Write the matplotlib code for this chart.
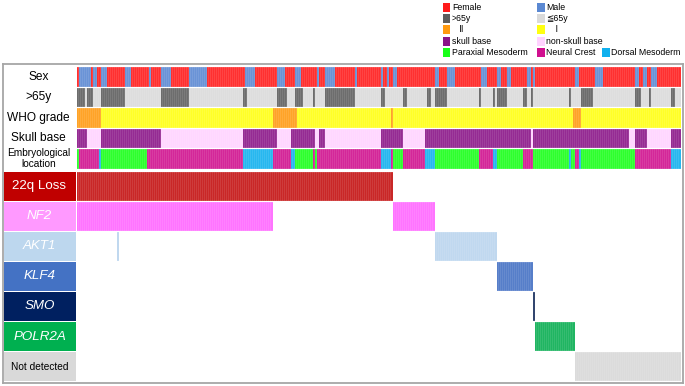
import numpy as np
import matplotlib
matplotlib.use("Agg")
import matplotlib.pyplot as plt
from matplotlib.patches import Rectangle

plt.rcParams['font.family'] = ['Liberation Sans', 'DejaVu Sans']

# clinical tracks, read left to right as runs of (category, number of samples)
sex_runs = [("F", 1), ("M", 6), ("F", 1), ("M", 2), ("F", 2), ("M", 3), ("F", 9), ("M", 3),
            ("F", 9), ("M", 1), ("F", 5), ("M", 5), ("F", 9), ("M", 9), ("F", 19), ("M", 5),
            ("F", 11), ("M", 4), ("F", 5), ("M", 3), ("F", 8), ("M", 1), ("F", 3), ("M", 5),
            ("F", 10), ("M", 1), ("F", 12), ("M", 1), ("F", 2), ("M", 1), ("F", 2), ("M", 2),
            ("F", 19), ("M", 2), ("F", 4), ("M", 4), ("F", 13), ("M", 3), ("F", 5), ("M", 2),
            ("F", 3), ("M", 2), ("F", 8), ("M", 2), ("F", 1), ("M", 1), ("F", 20), ("M", 2),
            ("F", 8), ("M", 4), ("F", 16), ("M", 2), ("F", 2), ("M", 2), ("F", 2), ("M", 3),
            ("F", 12)]
age_runs = [("old", 4), ("young", 1), ("old", 3), ("young", 4), ("old", 12), ("young", 18),
            ("old", 14), ("young", 27), ("old", 2), ("young", 15), ("old", 5), ("young", 4),
            ("old", 4), ("young", 5), ("old", 1), ("young", 5), ("old", 15), ("young", 13),
            ("old", 2), ("young", 9), ("old", 2), ("young", 10), ("old", 2), ("young", 2),
            ("old", 6), ("young", 16), ("old", 1), ("young", 6), ("old", 1), ("young", 1),
            ("old", 5), ("young", 8), ("old", 2), ("young", 2), ("old", 1), ("young", 18),
            ("old", 1), ("young", 5), ("old", 6), ("young", 21), ("old", 3), ("young", 4),
            ("old", 1), ("young", 10), ("old", 2), ("young", 3)]
who_runs = [("II", 12), ("I", 86), ("II", 12), ("I", 47), ("II", 1), ("I", 90), ("II", 4), ("I", 50)]
skull_runs = [("sb", 5), ("nsb", 7), ("sb", 30), ("nsb", 41), ("sb", 17), ("nsb", 7), ("sb", 12),
              ("nsb", 2), ("sb", 3), ("nsb", 28), ("sb", 11), ("nsb", 11), ("sb", 53), ("nsb", 1),
              ("sb", 48), ("nsb", 3), ("sb", 6), ("nsb", 12), ("sb", 5)]
embryo_runs = [("PM", 1), ("NC", 10), ("DM", 1), ("PM", 23), ("NC", 48), ("DM", 15), ("NC", 9),
               ("DM", 2), ("PM", 9), ("NC", 1), ("PM", 1), ("NC", 32), ("DM", 5), ("NC", 1),
               ("PM", 5), ("NC", 11), ("DM", 5), ("PM", 22), ("NC", 7), ("DM", 2), ("PM", 13),
               ("NC", 5), ("PM", 18), ("DM", 1), ("PM", 2), ("NC", 2), ("DM", 1), ("PM", 27),
               ("NC", 18), ("DM", 5)]

# alterations, runs of (altered, number of samples)
loss22q_runs = [(1, 158), (0, 144)]
nf2_runs = [(1, 98), (0, 60), (1, 21), (0, 123)]
akt1_runs = [(0, 20), (1, 1), (0, 158), (1, 31), (0, 92)]
klf4_runs = [(0, 210), (1, 18), (0, 74)]
smo_runs = [(0, 228), (1, 1), (0, 73)]
polr2a_runs = [(0, 229), (1, 20), (0, 53)]
none_runs = [(0, 249), (1, 53)]

clin_labels = ["Sex", ">65y", "WHO grade", "Skull base", "Embryological\nlocation"]
gene_labels = ["22q Loss", "NF2", "AKT1", "KLF4", "SMO", "POLR2A", "Not detected"]

cat_colors = {"F": "#ff1a1a", "M": "#5a88d2", "old": "#5e5e5e", "young": "#dadada",
              "II": "#ff9a10", "I": "#ffff10", "sb": "#8a1488", "nsb": "#ffd2ff",
              "PM": "#18ff18", "NC": "#d0108f", "DM": "#10b0ee"}
gene_colors = ["#c41010", "#ff66ff", "#bad4ee", "#4470c4", "#1c3260", "#08ad52", "#d8d8d8"]
box_colors = ["#c00000", "#ff99ff", "#bdd7ee", "#4472c4", "#002060", "#00b050", "#d9d9d9"]


def expand(runs):
    return np.repeat([r[0] for r in runs], [r[1] for r in runs])


clin_tracks = [expand(r) for r in (sex_runs, age_runs, who_runs, skull_runs, embryo_runs)]
gene_tracks = [expand(r).astype(int) for r in (loss22q_runs, nf2_runs, akt1_runs, klf4_runs,
                                                smo_runs, polr2a_runs, none_runs)]
n = len(clin_tracks[0])

W, H = 685, 386
fig = plt.figure(figsize=(W / 100, H / 100), dpi=100)

# row layout (pixels from the top of the track area)
clin_top = [0, 20.5, 41, 61.5, 82]
clin_h = 19.5
gene_top = [104.5 + 30.07 * j for j in range(7)]
gene_h = 29.3
ytot = 315

# outer frame
fr = fig.add_axes([3 / W, 3.5 / H, 680 / W, 318.5 / H])
fr.set_xticks([]); fr.set_yticks([])
for s in fr.spines.values():
    s.set_color("#a6a6a6"); s.set_linewidth(1.3)

ax = fig.add_axes([77 / W, 4 / H, 604 / W, 315 / H])
ax.set_xlim(0, n)
ax.set_ylim(ytot, 0)
ax.axis("off")
x = np.arange(n) + 0.5
for top, vals in zip(clin_top, clin_tracks):
    ax.bar(x, clin_h, bottom=top, width=1, color=[cat_colors[v] for v in vals],
           edgecolor="white", linewidth=0.14)
for top, vals, c in zip(gene_top, gene_tracks, gene_colors):
    m = vals == 1
    ax.bar(x[m], gene_h, bottom=top, width=1, color=c, edgecolor="white", linewidth=0.14)

lab = fig.add_axes([3.5 / W, 4 / H, 72 / W, 315 / H])
lab.set_xlim(0, 1)
lab.set_ylim(ytot, 0)
lab.axis("off")
for top, name in zip(clin_top, clin_labels):
    fs = 7.3 if "\n" in name else 8.6
    lab.text(0.49, top + clin_h / 2, name, ha="center", va="center", fontsize=fs,
             linespacing=1.15)
for j, (top, name) in enumerate(zip(gene_top, gene_labels)):
    lab.add_patch(Rectangle((0, top), 1, gene_h, facecolor=box_colors[j], edgecolor="none"))
    if name == "Not detected":
        lab.text(0.5, top + gene_h / 2, name, ha="center", va="center", fontsize=7.3, color="black")
    else:
        lab.text(0.5, top + gene_h / 2, name, ha="center", va="center", fontsize=9.6,
                 color="white", style="normal" if name == "22q Loss" else "italic")

# legend
leg = fig.add_axes([440 / W, (H - 62) / H, 245 / W, 62 / H])
leg.set_xlim(440, 685)
leg.set_ylim(62, 0)
leg.axis("off")
legend_items = [
    (443, ["F", "old", "II", "sb", "PM"], ["Female", ">65y", "   \u2161", "skull base", "Paraxial Mesoderm"]),
    (537, ["M", "young", "I", "nsb", "NC"], ["Male", "\u226665y", "    \u2160", "non-skull base", "Neural Crest"]),
    (602, [None, None, None, None, "DM"], ["", "", "", "", "Dorsal Mesoderm"]),
]
for x0, cats, names in legend_items:
    for r, (cat, name) in enumerate(zip(cats, names)):
        if cat is None:
            continue
        yc = 7.2 + 11.3 * r
        leg.add_patch(Rectangle((x0, yc - 4.5), 7.5, 9, facecolor=cat_colors[cat], edgecolor="none"))
        leg.text(x0 + 9, yc, name, ha="left", va="center", fontsize=6.3)

fig.savefig("out.png", dpi=100)
